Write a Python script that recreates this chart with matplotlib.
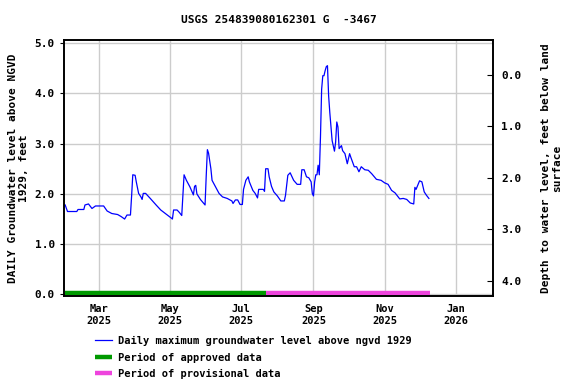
import matplotlib
matplotlib.use("Agg")
import matplotlib.pyplot as plt
import pandas as pd

# daily maximum groundwater level above NGVD 1929, feet
dates = [
    "2025-01-31", "2025-02-02", "2025-02-10", "2025-02-11", "2025-02-16", "2025-02-17",
    "2025-02-20", "2025-02-23", "2025-02-26", "2025-03-05", "2025-03-08", "2025-03-12",
    "2025-03-17", "2025-03-20", "2025-03-23", "2025-03-25", "2025-03-28", "2025-03-29",
    "2025-03-30", "2025-04-01", "2025-04-02", "2025-04-04", "2025-04-06", "2025-04-07",
    "2025-04-08", "2025-04-10", "2025-04-14", "2025-04-19", "2025-04-23", "2025-04-27",
    "2025-05-02", "2025-05-03", "2025-05-04", "2025-05-07", "2025-05-09", "2025-05-11",
    "2025-05-12", "2025-05-13", "2025-05-15", "2025-05-18", "2025-05-21", "2025-05-22",
    "2025-05-23", "2025-05-24", "2025-05-27", "2025-05-31", "2025-06-01", "2025-06-02",
    "2025-06-03", "2025-06-05", "2025-06-06", "2025-06-09", "2025-06-12", "2025-06-15",
    "2025-06-19", "2025-06-23", "2025-06-24", "2025-06-26", "2025-06-28", "2025-06-30",
    "2025-07-02", "2025-07-03", "2025-07-05", "2025-07-07", "2025-07-08", "2025-07-11",
    "2025-07-13", "2025-07-15", "2025-07-16", "2025-07-20", "2025-07-21", "2025-07-22",
    "2025-07-24", "2025-07-25", "2025-07-27", "2025-07-29", "2025-08-01", "2025-08-04",
    "2025-08-07", "2025-08-08", "2025-08-10", "2025-08-12", "2025-08-15", "2025-08-18",
    "2025-08-21", "2025-08-22", "2025-08-24", "2025-08-26", "2025-08-28", "2025-08-30",
    "2025-08-31", "2025-09-01", "2025-09-02", "2025-09-03", "2025-09-04", "2025-09-05",
    "2025-09-06", "2025-09-07", "2025-09-08", "2025-09-09", "2025-09-10", "2025-09-11",
    "2025-09-12", "2025-09-13", "2025-09-14", "2025-09-15", "2025-09-16", "2025-09-17",
    "2025-09-18", "2025-09-19", "2025-09-20", "2025-09-21", "2025-09-22", "2025-09-23",
    "2025-09-25", "2025-09-26", "2025-09-28", "2025-09-30", "2025-10-02", "2025-10-03",
    "2025-10-06", "2025-10-08", "2025-10-10", "2025-10-12", "2025-10-15", "2025-10-18",
    "2025-10-21", "2025-10-25", "2025-10-29", "2025-11-01", "2025-11-04", "2025-11-07",
    "2025-11-10", "2025-11-14", "2025-11-17", "2025-11-20", "2025-11-23", "2025-11-26",
    "2025-11-27", "2025-11-28", "2025-12-01", "2025-12-03", "2025-12-05", "2025-12-07",
    "2025-12-09",
]
levels = [
    1.78, 1.65, 1.65, 1.69, 1.69, 1.78,
    1.80, 1.71, 1.76, 1.76, 1.66, 1.61,
    1.59, 1.55, 1.50, 1.58, 1.58, 1.96,
    2.38, 2.37, 2.24, 2.01, 1.94, 1.89,
    2.01, 2.01, 1.91, 1.78, 1.68, 1.61,
    1.52, 1.50, 1.68, 1.68, 1.63, 1.57,
    1.98, 2.38, 2.27, 2.14, 1.98, 2.15,
    2.17, 2.00, 1.89, 1.78, 2.36, 2.88,
    2.81, 2.50, 2.27, 2.14, 2.01, 1.94,
    1.91, 1.86, 1.81, 1.88, 1.88, 1.79,
    1.79, 2.09, 2.27, 2.34, 2.24, 2.07,
    2.01, 1.92, 2.09, 2.09, 2.05, 2.50,
    2.50, 2.34, 2.15, 2.04, 1.96, 1.86,
    1.86, 1.97, 2.37, 2.42, 2.27, 2.19,
    2.19, 2.48, 2.48, 2.34, 2.32, 2.24,
    2.01, 1.96, 2.24, 2.38, 2.38, 2.57,
    2.38, 3.13, 4.08, 4.35, 4.35, 4.45,
    4.53, 4.55, 3.95, 3.62, 3.33, 3.06,
    2.95, 2.85, 3.03, 3.43, 3.33, 2.90,
    2.96, 2.86, 2.80, 2.60, 2.80, 2.73,
    2.54, 2.54, 2.44, 2.54, 2.48, 2.47,
    2.40, 2.29, 2.27, 2.22, 2.19, 2.07,
    2.02, 1.90, 1.91, 1.89, 1.82, 1.80,
    2.13, 2.09, 2.26, 2.24, 2.04, 1.97,
    1.91,
]

approved_period = ["2025-01-31", "2025-07-22"]
provisional_period = ["2025-07-22", "2025-12-10"]

tick_dates = ["2025-03-01", "2025-05-01", "2025-07-01", "2025-09-01", "2025-11-01", "2026-01-01"]
tick_labels = ["Mar\n2025", "May\n2025", "Jul\n2025", "Sep\n2025", "Nov\n2025", "Jan\n2026"]

plt.rcParams["font.family"] = "DejaVu Sans Mono"
plt.rcParams["font.weight"] = "bold"

fig = plt.figure(figsize=(5.76, 3.84), dpi=100)
ax = fig.add_axes([64 / 576, 1 - 296 / 384, 429 / 576, 256 / 384])

x = pd.to_datetime(dates)
ax.plot(x, levels, color="#0000ff", lw=0.9,
        label="Daily maximum groundwater level above ngvd 1929")
ax.plot(pd.to_datetime(approved_period), [0.02, 0.02], color="#009900", lw=3.2,
        solid_capstyle="butt", label="Period of approved data")
ax.plot(pd.to_datetime(provisional_period), [0.02, 0.02], color="#ee44dd", lw=3.2,
        solid_capstyle="butt", label="Period of provisional data")

ax.set_xlim(pd.Timestamp("2025-01-30"), pd.Timestamp("2026-02-02"))
ax.set_ylim(-0.03, 5.06)
ax.set_yticks([0, 1, 2, 3, 4, 5])
ax.set_yticklabels([f"{v:.1f}" for v in [0, 1, 2, 3, 4, 5]], fontweight="bold")
ax.set_xticks(pd.to_datetime(tick_dates))
ax.set_xticklabels(tick_labels, fontweight="bold")
ax.grid(color="#cccccc", lw=1)
ax.set_axisbelow(True)
ax.tick_params(axis="x", length=0, pad=6, labelsize=7.5)
ax.tick_params(axis="y", length=3, labelsize=8)
for s in ax.spines.values():
    s.set_linewidth(1.2)

ax.set_ylabel("DAILY Groundwater level above NGVD\n1929, feet", fontsize=8,
              fontweight="bold", linespacing=1.15, labelpad=4)
ax.set_title("USGS 254839080162301 G  -3467", fontsize=8, fontweight="bold", pad=12)

ax2 = ax.twinx()
ax2.set_ylim(4.30, -0.68)
ax2.set_yticks([0, 1, 2, 3, 4])
ax2.set_yticklabels([f"{v:.1f}" for v in [0, 1, 2, 3, 4]], fontweight="bold")
ax2.tick_params(axis="y", direction="in", length=4, labelsize=8, pad=6)
ax2.set_ylabel("Depth to water level, feet below land\nsurface", fontsize=8,
               fontweight="bold", linespacing=1.15, labelpad=14)
for s in ax2.spines.values():
    s.set_linewidth(1.2)

handles, labels = ax.get_legend_handles_labels()
fig.legend(handles, labels, loc="upper left", bbox_to_anchor=(95 / 576, 1 - 336 / 384),
           frameon=False, handlelength=1.6, handletextpad=0.6,
           labelspacing=0.62, borderpad=0, borderaxespad=0,
           prop={"family": "DejaVu Sans Mono", "weight": "bold", "size": 7.5})

fig.savefig("out.png", dpi=100)
